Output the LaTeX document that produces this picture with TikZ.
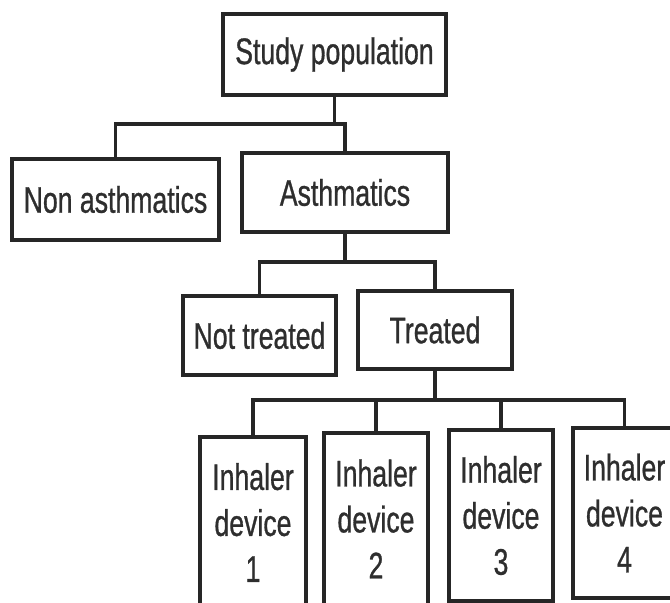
\documentclass[tikz,border=0pt]{standalone}
\usepackage{fontspec}
\setmainfont[FakeStretch=0.72,FakeBold=0.8]{Liberation Sans}
\definecolor{ink}{HTML}{262626}
\definecolor{inktext}{HTML}{2E2E2E}
\begin{document}
\begin{tikzpicture}[x=1pt,y=-1pt,
  box/.style={draw=ink, line width=3.1pt, inner sep=0pt, text=inktext,
    font=\fontsize{37}{46}\selectfont, align=center},
  link/.style={draw=ink, line width=3.1pt}]
\useasboundingbox (0,0) rectangle (670,603);
\clip (0,0) rectangle (670,603);

% level 0
\node[box, minimum width=223pt, minimum height=81pt] (study) at (334.5,54.5) {Study population};

% level 1
\node[box, minimum width=207pt, minimum height=81pt] (non) at (115.5,199.5) {Non asthmatics};
\node[box, minimum width=206pt, minimum height=79pt] (asth) at (345,192.5) {Asthmatics};

% level 2
\node[box, minimum width=153pt, minimum height=79pt] (nottr) at (259.5,335.5) {Not treated};
\node[box, minimum width=154pt, minimum height=78pt] (treat) at (435,330) {Treated};

% level 3
\node[box, minimum width=106pt, minimum height=171pt] (d1) at (253,522.5) {Inhaler\\device\\1};
\node[box, minimum width=104pt, minimum height=172pt] (d2) at (376,519) {Inhaler\\device\\2};
\node[box, minimum width=104pt, minimum height=171pt] (d3) at (501,515.5) {Inhaler\\device\\3};
\node[box, minimum width=103pt, minimum height=170pt] (d4) at (624.5,513) {Inhaler\\device\\4};

% branch levels
\coordinate (j1) at (0,124);
\coordinate (j2) at (0,262);
\coordinate (j3) at (0,400);

% connectors
\draw[link] (study.south) -- (study.south |- j1);
\draw[link] (non.north) -- (non.north |- j1) -- (asth.north |- j1) -- (asth.north);

\draw[link] (asth.south) -- (asth.south |- j2);
\draw[link] (nottr.north) -- (nottr.north |- j2) -- (treat.north |- j2) -- (treat.north);

\draw[link] (treat.south) -- (treat.south |- j3);
\draw[link] (d1.north) -- (d1.north |- j3) -- (d4.north |- j3) -- (d4.north);
\draw[link] (d2.north) -- (d2.north |- j3);
\draw[link] (d3.north) -- (d3.north |- j3);
\end{tikzpicture}
\end{document}
